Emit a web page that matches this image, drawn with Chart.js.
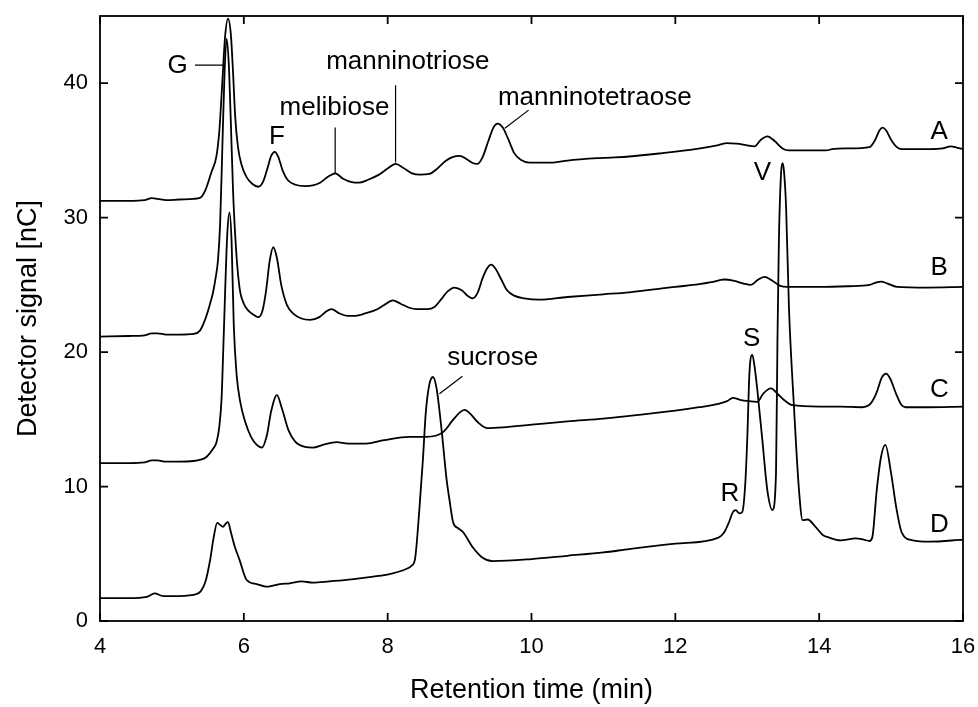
<!DOCTYPE html>
<html>
<head>
<meta charset="utf-8">
<script src="https://cdn.jsdelivr.net/npm/chart.js@4.4.0/dist/chart.umd.min.js"></script>
<style>
  html, body { margin: 0; padding: 0; background: #fff; }
  #wrap { width: 978px; height: 707px; }
</style>
</head>
<body>
<div id="wrap"><canvas id="chromatogram"></canvas></div>
<script>
// axis ticks
const timeTicks = [4, 6, 8, 10, 12, 14, 16];
const signalTicks = [0, 10, 20, 30, 40];

// chromatograms: [retention time (min), detector signal (nC)]
const traceA = [
    [4.00,31.25],[4.40,31.25],[4.62,31.3],[4.72,31.45],[4.80,31.4],[4.92,31.3],[5.10,31.35],[5.30,31.4],
    [5.40,31.5],[5.47,32.1],[5.55,33.4],[5.62,34.6],[5.66,36.5],[5.70,40.0],[5.74,43.5],[5.78,44.8],
    [5.82,43.6],[5.85,40.8],[5.88,37.5],[5.92,35.2],[5.97,33.9],[6.04,33.0],[6.12,32.5],[6.20,32.3],
    [6.27,32.7],[6.33,33.7],[6.38,34.6],[6.43,34.9],[6.48,34.5],[6.54,33.5],[6.61,32.8],[6.72,32.45],
    [6.85,32.35],[6.96,32.4],[7.06,32.6],[7.16,33.0],[7.27,33.3],[7.38,32.9],[7.50,32.65],[7.60,32.6],
    [7.72,32.8],[7.88,33.2],[8.00,33.65],[8.11,34.0],[8.22,33.7],[8.34,33.3],[8.45,33.2],[8.58,33.25],
    [8.68,33.6],[8.80,34.2],[8.90,34.5],[9.00,34.6],[9.10,34.35],[9.19,34.05],[9.25,34.0],[9.32,34.5],
    [9.40,35.7],[9.47,36.7],[9.53,37.0],[9.60,36.7],[9.68,35.8],[9.76,34.8],[9.85,34.3],[9.97,34.1],
    [10.30,34.1],[10.50,34.25],[11.00,34.45],[11.36,34.55],[11.82,34.8],[12.28,35.1],[12.60,35.4],[12.72,35.55],
    [12.85,35.5],[12.98,35.4],[13.10,35.3],[13.19,35.8],[13.28,36.05],[13.38,35.7],[13.49,35.15],[13.58,35.0],
    [14.10,35.0],[14.18,35.1],[14.40,35.15],[14.70,35.25],[14.78,35.8],[14.84,36.5],[14.88,36.7],[14.93,36.5],
    [15.00,35.8],[15.08,35.25],[15.15,35.1],[15.53,35.1],[15.72,35.15],[15.83,35.3],[15.92,35.2],[16.00,35.1]
];

const traceB = [
    [4.00,21.15],[4.40,21.2],[4.62,21.25],[4.72,21.4],[4.80,21.4],[4.92,21.3],[5.10,21.3],[5.30,21.35],
    [5.39,21.6],[5.46,22.4],[5.52,23.4],[5.57,24.4],[5.61,25.6],[5.64,26.8],[5.67,29.5],[5.70,35.0],
    [5.73,40.5],[5.76,43.3],[5.79,41.5],[5.82,37.0],[5.85,32.0],[5.89,27.8],[5.94,24.8],[6.00,23.6],
    [6.06,23.1],[6.13,22.8],[6.20,22.6],[6.26,23.1],[6.31,24.6],[6.36,26.8],[6.41,27.8],[6.46,27.0],
    [6.52,25.0],[6.60,23.5],[6.70,22.8],[6.80,22.5],[6.92,22.4],[7.05,22.6],[7.14,23.0],[7.22,23.2],
    [7.32,22.9],[7.44,22.7],[7.55,22.7],[7.70,22.9],[7.84,23.15],[7.95,23.5],[8.07,23.85],[8.18,23.6],
    [8.30,23.3],[8.40,23.2],[8.55,23.2],[8.65,23.35],[8.74,23.9],[8.83,24.5],[8.93,24.8],[9.03,24.6],
    [9.12,24.15],[9.18,24.0],[9.25,24.4],[9.32,25.5],[9.38,26.2],[9.44,26.5],[9.50,26.2],[9.58,25.4],
    [9.66,24.6],[9.76,24.2],[9.90,24.0],[10.10,23.9],[10.50,24.1],[11.00,24.3],[11.36,24.45],[12.00,24.85],
    [12.33,25.05],[12.50,25.2],[12.68,25.4],[12.82,25.3],[12.95,25.1],[13.05,25.0],[13.14,25.35],[13.24,25.6],
    [13.34,25.35],[13.45,24.95],[13.56,24.85],[14.00,24.85],[14.40,24.9],[14.70,25.0],[14.78,25.15],[14.86,25.25],
    [14.95,25.1],[15.08,24.85],[15.50,24.8],[16.00,24.85]
];

const traceC = [
    [4.00,11.75],[4.40,11.75],[4.62,11.8],[4.72,11.95],[4.80,11.95],[4.92,11.85],[5.10,11.85],[5.30,11.9],
    [5.40,12.0],[5.48,12.2],[5.57,12.8],[5.62,13.3],[5.66,14.5],[5.69,16.5],[5.71,19.5],[5.74,24.5],
    [5.77,28.8],[5.80,30.4],[5.83,28.2],[5.86,22.0],[5.90,18.3],[5.95,16.3],[6.02,14.8],[6.10,13.7],
    [6.18,13.1],[6.25,12.9],[6.32,13.8],[6.38,15.6],[6.46,16.8],[6.53,15.8],[6.62,14.2],[6.72,13.3],
    [6.85,12.95],[6.96,12.9],[7.10,13.1],[7.29,13.3],[7.45,13.2],[7.70,13.2],[7.95,13.45],[8.30,13.7],
    [8.54,13.7],[8.77,14.05],[8.90,14.9],[9.00,15.5],[9.07,15.7],[9.15,15.4],[9.25,14.8],[9.38,14.35],
    [9.60,14.4],[10.00,14.6],[10.50,14.85],[11.00,15.05],[11.36,15.25],[12.00,15.65],[12.33,15.9],[12.60,16.15],
    [12.72,16.35],[12.80,16.6],[12.90,16.45],[13.02,16.35],[13.14,16.3],[13.22,16.9],[13.33,17.3],[13.42,16.9],
    [13.52,16.4],[13.63,16.05],[14.00,15.95],[14.30,15.95],[14.60,15.9],[14.72,16.2],[14.80,17.0],[14.87,18.1],
    [14.93,18.4],[14.99,18.0],[15.07,16.9],[15.14,16.1],[15.20,15.9],[15.50,15.9],[16.00,15.95]
];

const traceD = [
    [4.00,1.7],[4.40,1.7],[4.65,1.8],[4.76,2.05],[4.88,1.85],[5.00,1.85],[5.30,1.95],[5.40,2.2],
    [5.47,3.0],[5.53,4.5],[5.58,6.2],[5.63,7.3],[5.67,7.15],[5.71,7.0],[5.75,7.25],[5.78,7.35],
    [5.82,6.6],[5.87,5.6],[5.94,4.55],[6.04,3.05],[6.18,2.75],[6.31,2.55],[6.42,2.65],[6.50,2.75],
    [6.64,2.8],[6.80,2.95],[6.96,2.85],[7.19,2.95],[7.50,3.1],[7.80,3.3],[8.07,3.55],[8.25,3.85],
    [8.33,4.1],[8.38,4.6],[8.44,8.25],[8.49,12.0],[8.53,15.5],[8.58,17.6],[8.63,18.15],[8.68,17.3],
    [8.75,14.2],[8.82,10.5],[8.86,9.0],[8.91,7.35],[8.98,6.9],[9.05,6.6],[9.18,5.5],[9.32,4.7],
    [9.46,4.45],[10.00,4.6],[10.50,4.85],[11.00,5.1],[11.36,5.35],[12.00,5.75],[12.60,6.2],[12.68,6.6],
    [12.75,7.4],[12.80,8.1],[12.84,8.25],[12.89,8.0],[12.93,8.1],[12.97,10.0],[13.00,13.5],[13.03,18.4],
    [13.07,19.8],[13.10,19.0],[13.14,17.2],[13.21,13.45],[13.28,9.7],[13.35,8.25],[13.40,11.0],[13.42,20.9],
    [13.44,28.3],[13.47,33.3],[13.49,34.05],[13.51,33.5],[13.54,30.8],[13.58,23.3],[13.65,15.9],[13.72,9.7],
    [13.77,7.5],[13.84,7.55],[13.95,7.0],[14.05,6.4],[14.14,6.2],[14.30,6.0],[14.51,6.15],[14.62,6.05],
    [14.70,5.95],[14.74,6.25],[14.80,9.7],[14.86,12.2],[14.92,13.1],[15.00,11.0],[15.07,8.5],[15.15,6.55],
    [15.30,6.0],[15.53,5.9],[16.00,6.05]
];

// peak names and trace letters, placed in axis units
const peakLabels = [
    { text: 'G', t: 5.08, s: 41.3 },
    { text: 'F', t: 6.46, s: 36.0 },
    { text: 'melibiose', t: 7.26, s: 38.2 },
    { text: 'manninotriose', t: 8.28, s: 41.6 },
    { text: 'manninotetraose', t: 10.88, s: 38.95 },
    { text: 'sucrose', t: 9.46, s: 19.55 },
    { text: 'V', t: 13.21, s: 33.3 },
    { text: 'S', t: 13.06, s: 20.97 },
    { text: 'R', t: 12.76, s: 9.45 },
    { text: 'A', t: 15.67, s: 36.35 },
    { text: 'B', t: 15.67, s: 26.25 },
    { text: 'C', t: 15.67, s: 17.2 },
    { text: 'D', t: 15.67, s: 7.15 }
];

// leader lines [t1, s1, t2, s2]
const leaderLines = [
    [5.32, 41.35, 5.71, 41.35],
    [7.27, 36.7, 7.27, 33.3],
    [8.11, 39.85, 8.11, 34.1],
    [9.96, 38.0, 9.63, 36.65],
    [9.04, 18.2, 8.72, 16.9]
];

const FONT = '"Liberation Sans", Arial, sans-serif';

// box with inward ticks on every side, plus the peak annotations
const frameAndLabels = {
    id: 'frameAndLabels',
    afterDatasetsDraw(chart) {
        const { ctx, chartArea: a, scales: { x, y } } = chart;
        const tl = 8;
        ctx.save();
        ctx.strokeStyle = '#000';
        ctx.lineWidth = 1.8;
        ctx.strokeRect(a.left, a.top, a.right - a.left, a.bottom - a.top);

        ctx.beginPath();
        timeTicks.forEach(t => {
            const px = x.getPixelForValue(t);
            ctx.moveTo(px, a.bottom); ctx.lineTo(px, a.bottom - tl);
            ctx.moveTo(px, a.top); ctx.lineTo(px, a.top + tl);
        });
        signalTicks.forEach(v => {
            const py = y.getPixelForValue(v);
            ctx.moveTo(a.left, py); ctx.lineTo(a.left + tl, py);
            ctx.moveTo(a.right, py); ctx.lineTo(a.right - tl, py);
        });
        ctx.stroke();

        ctx.lineWidth = 1.2;
        ctx.beginPath();
        leaderLines.forEach(([t1, s1, t2, s2]) => {
            ctx.moveTo(x.getPixelForValue(t1), y.getPixelForValue(s1));
            ctx.lineTo(x.getPixelForValue(t2), y.getPixelForValue(s2));
        });
        ctx.stroke();

        ctx.fillStyle = '#000';
        ctx.font = '26px ' + FONT;
        ctx.textAlign = 'center';
        ctx.textBaseline = 'middle';
        peakLabels.forEach(l => {
            ctx.fillText(l.text, x.getPixelForValue(l.t), y.getPixelForValue(l.s));
        });
        ctx.restore();
    }
};

const toPoints = trace => trace.map(([t, s]) => ({ x: t, y: s }));

const lineStyle = {
    showLine: true,
    borderColor: '#000',
    borderWidth: 1.8,
    pointRadius: 0,
    cubicInterpolationMode: 'monotone',
    fill: false
};

new Chart(document.getElementById('chromatogram'), {
    type: 'scatter',
    data: {
        datasets: [
            { label: 'A', data: toPoints(traceA), ...lineStyle },
            { label: 'B', data: toPoints(traceB), ...lineStyle },
            { label: 'C', data: toPoints(traceC), ...lineStyle },
            { label: 'D', data: toPoints(traceD), ...lineStyle }
        ]
    },
    options: {
        responsive: true,
        maintainAspectRatio: false,
        animation: false,
        layout: { padding: { top: 16, right: 15, left: 0, bottom: 0 } },
        plugins: {
            legend: { display: false },
            tooltip: { enabled: false }
        },
        scales: {
            x: {
                type: 'linear',
                min: 4,
                max: 16,
                afterBuildTicks: scale => { scale.ticks = timeTicks.map(v => ({ value: v })); },
                afterFit: scale => {
                    scale.height = 86;
                    scale.paddingLeft = 0;
                    scale.paddingRight = 0;
                },
                grid: { display: false, drawTicks: false },
                border: { display: false },
                ticks: { color: '#000', padding: 13, maxRotation: 0, font: { family: FONT, size: 22 } },
                title: {
                    display: true,
                    text: 'Retention time (min)',
                    color: '#000',
                    padding: { top: 0, bottom: 0 },
                    font: { family: FONT, size: 27 }
                }
            },
            y: {
                type: 'linear',
                min: 0,
                max: 45,
                afterBuildTicks: scale => { scale.ticks = signalTicks.map(v => ({ value: v })); },
                afterFit: scale => {
                    scale.width = 100;
                    scale.paddingTop = 0;
                    scale.paddingBottom = 0;
                },
                grid: { display: false, drawTicks: false },
                border: { display: false },
                ticks: { color: '#000', padding: 12, font: { family: FONT, size: 22 } },
                title: {
                    display: true,
                    text: 'Detector signal [nC]',
                    color: '#000',
                    padding: { top: 12, bottom: 0 },
                    font: { family: FONT, size: 27 }
                }
            }
        }
    },
    plugins: [frameAndLabels]
});
</script>
</body>
</html>
